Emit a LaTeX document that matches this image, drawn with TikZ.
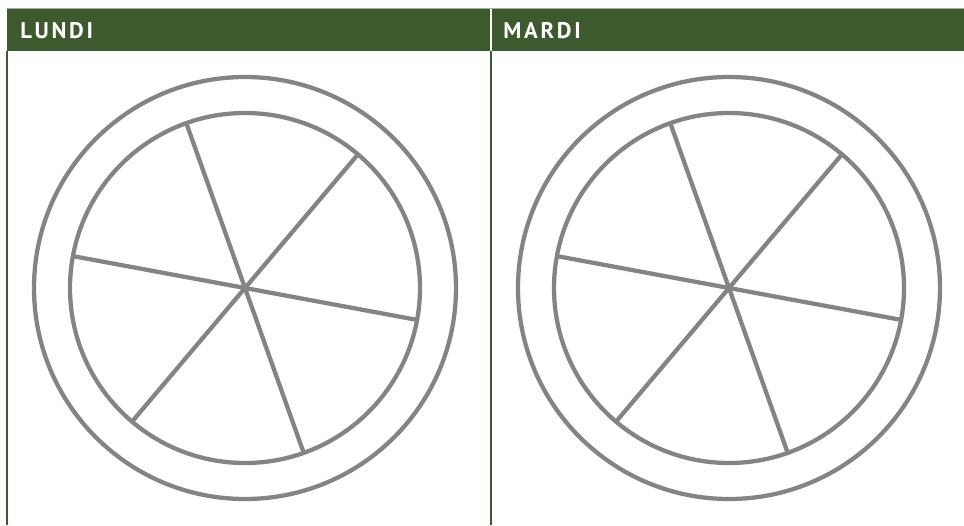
\documentclass[tikz,border=0pt]{standalone}
\usepackage{fontspec}
\setmainfont{PT Sans}
\newfontfamily\hdrfont[LetterSpace=12]{PT Sans}
\usetikzlibrary{calc}
\definecolor{hdrgreen}{RGB}{61,90,46}
\definecolor{wheelgrey}{RGB}{132,132,132}
\definecolor{topline}{RGB}{165,178,155}
\begin{document}
\begin{tikzpicture}[x=0.75pt,y=-0.75pt,
  wheel/.style={draw=wheelgrey,line width=3.2pt},
  spoke/.style={draw=wheelgrey,line width=3.2pt},
  hdr/.style={anchor=base west,text=white,font=\hdrfont\bfseries\fontsize{17}{20}\selectfont,inner sep=0pt},
  border/.style={draw=hdrgreen,line width=0.9pt}]
\useasboundingbox[fill=white] (0,0) rectangle (964,525);
% header
\fill[topline] (7,8) rectangle (964,9.5);
\fill[hdrgreen] (7,9) rectangle (964,51);
\draw[white,line width=0.9pt] (491,9) -- (491,51);
% borders
\draw[border] (7,51) -- (7,525);
\draw[border] (491,51) -- (491,525);
\node[hdr] (lundi) at (20,38.5) {LUNDI};
\node[hdr] (mardi) at (503,38.5) {MARDI};
% wheels
\foreach \cx/\nm in {245/a,729/b}{
  \coordinate (c\nm) at (\cx,288);
  \draw[wheel] (c\nm) circle[radius=211];
  \draw[wheel] (c\nm) circle[radius=175];
  \foreach \ang in {-10.5,49.8,109.6}{
    \draw[spoke] ($(c\nm)+(\ang:175 and -175)$) -- ($(c\nm)+(\ang+180:175 and -175)$);
  }
}
\end{tikzpicture}
\end{document}
